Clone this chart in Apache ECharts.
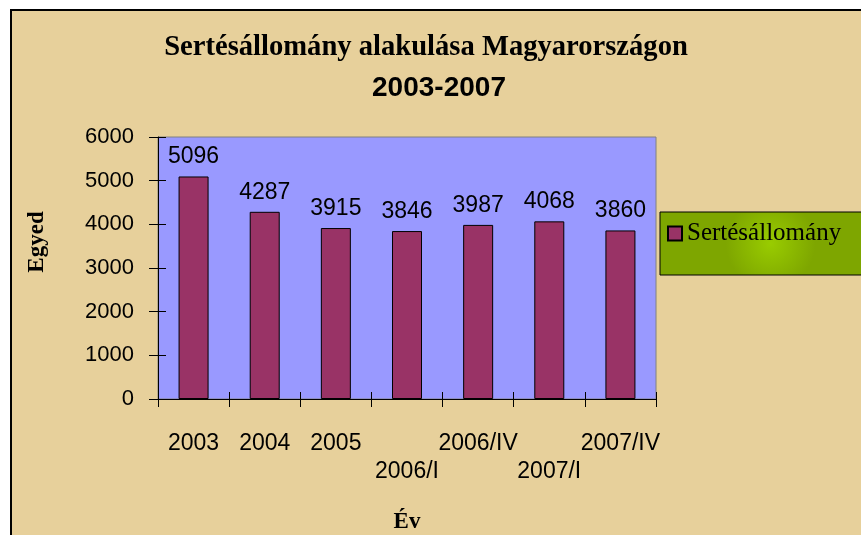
<!DOCTYPE html>
<html>
<head>
<meta charset="utf-8">
<script src="https://cdn.jsdelivr.net/npm/echarts@6/dist/echarts.min.js"></script>
<style>
  html, body { margin: 0; padding: 0; background: #fff; }
  #chart { width: 861px; height: 535px; }
</style>
</head>
<body>
<div id="chart"></div>
<script>
// data
const categories = ["2003", "2004", "2005", "2006/I", "2006/IV", "2007/I", "2007/IV"];
const sertesValues = [5096, 4287, 3915, 3846, 3987, 4068, 3860];
const yTicks = { min: 0, max: 6000, interval: 1000 };

const myChart = echarts.init(document.getElementById("chart"));

const option = {
  animation: false,
  backgroundColor: "#ffffff",
  graphic: [
    {
      type: "rect",
      shape: { x: 11, y: 10, width: 860, height: 535 },
      style: { fill: "#e7d09b", stroke: "#000", lineWidth: 2 },
      z: -10
    },
    // y axis title sits above the middle of the axis in the original
    {
      type: "text",
      x: 37,
      y: 242,
      rotation: Math.PI / 2,
      style: {
        text: "Egyed",
        textAlign: "center",
        textVerticalAlign: "middle",
        fontFamily: "Liberation Serif",
        fontWeight: "bold",
        fontSize: 23,
        fill: "#000"
      }
    }
  ],
  title: [
    {
      text: "Sertésállomány alakulása Magyarországon",
      left: 421,
      top: 28,
      textAlign: "center",
      textStyle: { fontFamily: "Liberation Serif", fontWeight: "bold", fontSize: 28.6, color: "#000" }
    },
    {
      text: "2003-2007",
      left: 434,
      top: 69,
      textAlign: "center",
      textStyle: { fontFamily: "Liberation Sans", fontWeight: "bold", fontSize: 28, color: "#000" }
    }
  ],
  legend: {
    left: 660,
    top: 212,
    orient: "vertical",
    icon: "rect",
    itemWidth: 14,
    itemHeight: 14,
    itemGap: 4,
    padding: [9, 40, 29, 7],
    backgroundColor: {
      type: "radial", x: 0.5, y: 0.5, r: 0.7,
      colorStops: [{ offset: 0, color: "#99cc00" }, { offset: 1, color: "#7ea600" }]
    },
    borderColor: "#000",
    borderWidth: 1,
    borderRadius: 0,
    textStyle: { fontFamily: "Liberation Serif", fontSize: 25, color: "#000" },
    data: ["Sertésállomány"]
  },
  grid: {
    left: 158,
    top: 137,
    right: 205,
    bottom: 134,
    show: true,
    backgroundColor: "#9999ff",
    borderColor: "#808080",
    borderWidth: 1
  },
  xAxis: [
    {
      type: "category",
      data: categories,
      name: "Év",
      nameLocation: "middle",
      nameGap: 112,
      nameTextStyle: { fontFamily: "Liberation Serif", fontWeight: "bold", fontSize: 23, color: "#000" },
      axisLine: { show: true, lineStyle: { color: "#000", width: 1 } },
      axisTick: { show: true, inside: false, length: 8, lineStyle: { color: "#000" } },
      axisLabel: {
        interval: 0,
        hideOverlap: false,
        margin: 31,
        fontFamily: "Liberation Sans",
        fontSize: 23,
        color: "#000",
        lineHeight: 28,
        formatter: (v, i) => (i === 3 || i === 5 ? "\n" + v : v + "\n")
      }
    },
    {
      type: "category",
      data: categories,
      position: "bottom",
      axisLine: { show: false },
      axisTick: { show: true, inside: true, length: 7, lineStyle: { color: "#000" } },
      axisLabel: { show: false }
    }
  ],
  yAxis: [
    {
      type: "value",
      min: yTicks.min,
      max: yTicks.max,
      interval: yTicks.interval,
      axisLine: { show: true, lineStyle: { color: "#000", width: 1 } },
      axisTick: { show: true, inside: false, length: 9, lineStyle: { color: "#000" } },
      splitLine: { show: false },
      axisLabel: {
        margin: 24,
        fontFamily: "Liberation Sans",
        fontSize: 22,
        color: "#000",
        formatter: v => String(v)
      }
    },
    {
      type: "value",
      min: yTicks.min,
      max: yTicks.max,
      interval: yTicks.interval,
      position: "left",
      axisLine: { show: false },
      axisTick: { show: true, inside: true, length: 8, lineStyle: { color: "#000" } },
      splitLine: { show: false },
      axisLabel: { show: false }
    }
  ],
  series: [
    {
      name: "Sertésállomány",
      type: "bar",
      data: sertesValues,
      barWidth: 30,
      itemStyle: { color: "#993366", borderColor: "#000", borderWidth: 1 },
      label: {
        show: true,
        position: "top",
        distance: 8,
        fontFamily: "Liberation Sans",
        fontSize: 23,
        color: "#000"
      }
    }
  ]
};

myChart.setOption(option);
</script>
</body>
</html>
